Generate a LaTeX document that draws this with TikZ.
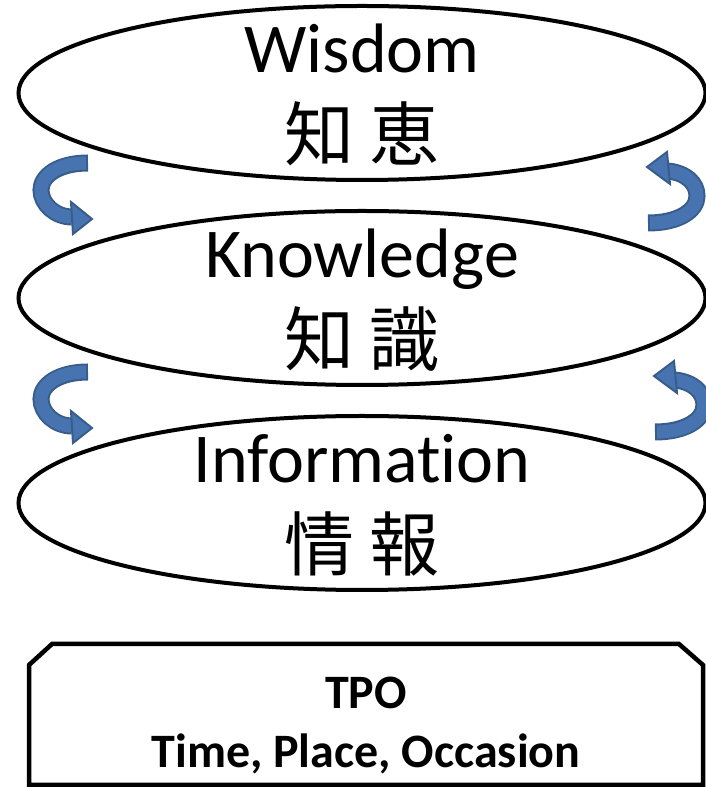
\documentclass[tikz,border=0pt]{standalone}
\usepackage{fontspec}
\setmainfont{Carlito}[Ligatures=NoCommon]
\newfontfamily\jpfont{Noto Sans CJK JP}
\usetikzlibrary{shapes.geometric}
\definecolor{arrowfill}{RGB}{71,116,176}
\definecolor{arrowline}{RGB}{56,93,138}
\tikzstyle{layer} = [ellipse, draw=black, line width=4pt, minimum width=687pt, minimum height=174pt, inner sep=0pt]
\tikzstyle{caption} = [font=\fontsize{70}{88}\selectfont, align=center, inner sep=0pt, yshift=-2pt]
\tikzstyle{tpobox} = [rectangle, minimum width=674pt, minimum height=141pt, inner sep=0pt, outer sep=0pt]
\tikzstyle{boxline} = [draw=black, line width=4.5pt, line join=miter]
\tikzstyle{tpotext} = [font=\bfseries\fontsize{48}{59}\selectfont, align=center, inner sep=0pt]
\tikzstyle{shaft} = [draw=arrowfill, line width=13pt, shorten <=2pt, preaction={draw=arrowline, line width=17pt, shorten <=0pt}]
\tikzstyle{head} = [fill=arrowfill, draw=arrowline, line width=2pt, line join=miter]

\begin{document}
\begin{tikzpicture}[x=1pt, y=1pt, node distance=205pt]
  \useasboundingbox (0,0) rectangle (706,787);
  \node (wisdom) [layer] at (362,694) {};
  \node (knowledge) [layer, below of=wisdom] {};
  \node (information) [layer, below of=knowledge] {};
  \node (wisdom text) [caption] at (wisdom) {Wisdom\\{\jpfont 知 恵}};
  \node (knowledge text) [caption] at (knowledge) {Knowledge\\{\jpfont 知 識}};
  \node (information text) [caption] at (information) {Information\\{\jpfont 情 報}};
  \node (tpo) [tpobox] at (366,72.5) {};
  \draw[boxline] (tpo.south west) -- ([yshift=-21pt]tpo.north west) -- ([xshift=23pt]tpo.north west)
    -- ([xshift=-24pt]tpo.north east) -- ([yshift=-21pt]tpo.north east) -- (tpo.south east) -- cycle;
  \node (tpo text) [tpotext, yshift=-11pt] at (tpo) {TPO\\Time, Place, Occasion};
  % left side: going down
  \coordinate (wk tail) at (88,624);
  \coordinate (wk end) at (72,570);
  \coordinate (ki tail) at (88,415);
  \coordinate (ki end) at (72,361);
  \draw[shaft] (wk tail) .. controls (58,624) and (41,611) .. (41,597) .. controls (41,583) and (55,570) .. (wk end);
  \draw[head] (92,568) -- (71,585) -- (73,553) -- cycle;
  \draw[shaft] (ki tail) .. controls (58,415) and (41,402) .. (41,388) .. controls (41,374) and (55,361) .. (ki end);
  \draw[head] (92,359) -- (71,376) -- (73,344) -- cycle;
  % right side: going up
  \coordinate (kw tail) at (648,564);
  \coordinate (kw end) at (668,616);
  \coordinate (ik tail) at (655,355);
  \coordinate (ik end) at (675,407);
  \draw[shaft] (kw tail) .. controls (678,564) and (697,576) .. (697,591) .. controls (697,604) and (686,614) .. (kw end);
  \draw[head] (647,620) -- (667,635) -- (670,603) -- cycle;
  \draw[shaft] (ik tail) .. controls (685,355) and (704,367) .. (704,382) .. controls (704,395) and (693,405) .. (ik end);
  \draw[head] (654,411) -- (674,426) -- (677,394) -- cycle;
\end{tikzpicture}
\end{document}
